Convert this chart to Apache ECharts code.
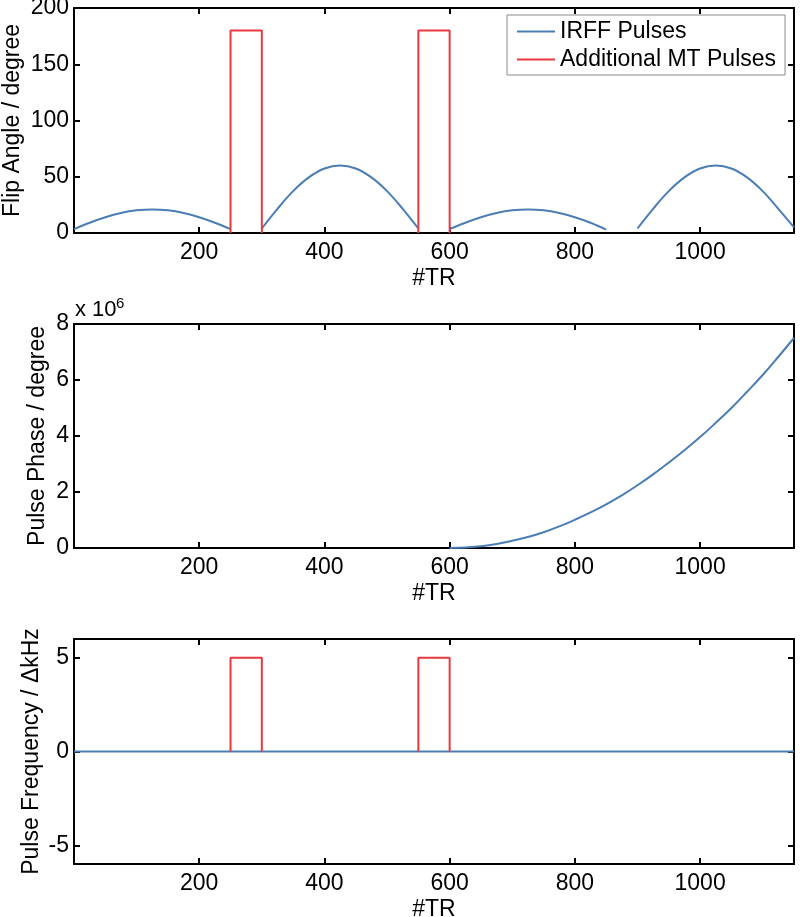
<!DOCTYPE html>
<html>
<head>
<meta charset="utf-8">
<script src="https://cdn.jsdelivr.net/npm/echarts@6/dist/echarts.min.js"></script>
<style>
html,body{margin:0;padding:0;background:#fff;}
#chart{width:800px;height:917px;}
</style>
</head>
<body>
<div id="chart"></div>
<script>
// ---- data ----
const xTicks = [200, 400, 600, 800, 1000];
const flipTicks = [0, 50, 100, 150, 200];
const phaseTicks = [0, 2, 4, 6, 8];          // x 10^6
const freqTicks = [-5, 0, 5];

// Flip angle of IRFF pulses (null = gap)
const flipX = [0,25,50,75,100,125,150,175,200,225,250, 275,
               300,325,350,375,400,425,450,475,500,525,550, 575,
               600,625,650,675,700,725,750,775,800,825,850, 875,
               900,925,950,975,1000,1025,1050,1075,1100,1125,1150];
const irffFlip = [3.5,9.1,14.0,17.8,20.2,21.0,20.2,17.8,14.0,9.1,3.5, null,
                  4.0,21.5,37.2,49.4,57.3,60.0,57.3,49.4,37.2,21.5,4.0, null,
                  3.5,9.1,14.0,17.8,20.2,21.0,20.2,17.8,14.0,9.1,3.0, null,
                  4.0,21.5,37.2,49.4,57.3,60.0,57.3,49.4,37.2,21.5,5.0];

// Additional MT pulses (rectangles)
const mtX    = [250, 250, 300, 300, 425, 550, 550, 600, 600];
const mtFlip = [0, 180, 180, 0, null, 0, 180, 180, 0];
const mtFreq = [0, 5, 5, 0, null, 0, 5, 5, 0];

// Pulse phase (degree, in units of 10^6)
const phaseX = [600,625,650,675,700,725,750,775,800,825,850,875,900,925,950,975,1000,1025,1050,1075,1100,1125,1150];
const phaseM = [0,0.02,0.06,0.14,0.26,0.39,0.56,0.77,1.01,1.27,1.56,1.88,2.24,2.63,3.05,3.49,3.96,4.47,5.00,5.58,6.18,6.83,7.50];

// Pulse frequency of IRFF pulses
const freqX = [0, 1150];
const irffFreq = [0, 0];

// ---- build chart ----
const FONT = 'Liberation Sans, Arial, sans-serif';
const FS = 23;
const BLUE = '#4a7eb4';
const RED = '#e8393f';
const BLACK = '#000';

const zip = (xs, ys) => xs.map((x, i) => [x, ys[i]]);

const grids = [
  {left: 74, top: 8, width: 720, height: 225, containLabel: false, outerBoundsMode: 'none'},
  {left: 74, top: 324, width: 720, height: 224, containLabel: false, outerBoundsMode: 'none'},
  {left: 74, top: 639, width: 720, height: 225, containLabel: false, outerBoundsMode: 'none'}
];

const axisLineStyle = {show: true, onZero: false, lineStyle: {color: BLACK, width: 2}};
const tickStyle = (vals) => ({show: true, inside: true, length: 6, customValues: vals, lineStyle: {color: BLACK, width: 2}});

const xAxes = [];
const yAxes = [];
const yConf = [
  {min: 0, max: 200, ticks: flipTicks, name: 'Flip Angle / degree', gap: 50},
  {min: 0, max: 8, ticks: phaseTicks, name: 'Pulse Phase / degree', gap: 25},
  {min: -6, max: 6, ticks: freqTicks, name: 'Pulse Frequency / \u0394kHz', gap: 31}
];
grids.forEach((g, i) => {
  xAxes.push({
    type: 'value', gridIndex: i, position: 'bottom', min: 0, max: 1150,
    name: '#TR', nameLocation: 'middle', nameGap: 34, nameMoveOverlap: false,
    nameTextStyle: {color: BLACK, fontSize: FS, fontFamily: FONT},
    axisLine: axisLineStyle, axisTick: tickStyle(xTicks),
    axisLabel: {customValues: xTicks, color: BLACK, fontSize: FS, fontFamily: FONT, margin: 8, formatter: v => String(v)},
    splitLine: {show: false}
  });
  xAxes.push({
    type: 'value', gridIndex: i, position: 'top', min: 0, max: 1150,
    axisLine: axisLineStyle, axisTick: tickStyle(xTicks),
    axisLabel: {show: false}, splitLine: {show: false}
  });
  const c = yConf[i];
  yAxes.push({
    type: 'value', gridIndex: i, position: 'left', min: c.min, max: c.max,
    name: c.name, nameLocation: 'middle', nameGap: c.gap, nameMoveOverlap: false,
    nameTextStyle: {color: BLACK, fontSize: FS, fontFamily: FONT},
    axisLine: axisLineStyle, axisTick: tickStyle(c.ticks),
    axisLabel: {customValues: c.ticks, color: BLACK, fontSize: FS, fontFamily: FONT, margin: 5, formatter: v => String(v)},
    splitLine: {show: false}
  });
  yAxes.push({
    type: 'value', gridIndex: i, position: 'right', min: c.min, max: c.max,
    axisLine: axisLineStyle, axisTick: tickStyle(c.ticks),
    axisLabel: {show: false}, splitLine: {show: false}
  });
});

const lineSeries = (name, data, xi, yi, color, smooth) => ({
  name, type: 'line', data, xAxisIndex: xi, yAxisIndex: yi,
  showSymbol: false, symbol: 'none', smooth: smooth || false, connectNulls: false,
  lineStyle: {color, width: 2}, itemStyle: {color}, animation: false, z: 3
});

const option = {
  animation: false,
  backgroundColor: '#fff',
  grid: grids,
  xAxis: xAxes,
  yAxis: yAxes,
  legend: {
    data: ['IRFF Pulses', 'Additional MT Pulses'],
    orient: 'vertical', left: 507, top: 15,
    padding: [5, 9, 4, 10], itemGap: 5,
    icon: 'rect', itemWidth: 38, itemHeight: 2,
    borderColor: '#8a8a8a', borderWidth: 1, backgroundColor: '#fff',
    textStyle: {color: BLACK, fontSize: FS, fontFamily: FONT},
    selectedMode: false
  },
  graphic: [
    {type: 'text', x: 75, y: 321, style: {text: 'x 10', font: '22px ' + FONT, fill: BLACK, verticalAlign: 'bottom'}},
    {type: 'text', x: 116, y: 311, style: {text: '6', font: '15px ' + FONT, fill: BLACK, verticalAlign: 'bottom'}}
  ],
  series: [
    lineSeries('IRFF Pulses', zip(flipX, irffFlip), 0, 0, BLUE, 0.4),
    lineSeries('Additional MT Pulses', zip(mtX, mtFlip), 0, 0, RED),
    lineSeries('IRFF Pulses', zip(phaseX, phaseM), 2, 2, BLUE, 0.4),
    lineSeries('IRFF Pulses', zip(freqX, irffFreq), 4, 4, BLUE),
    lineSeries('Additional MT Pulses', zip(mtX, mtFreq), 4, 4, RED)
  ]
};

const chart = echarts.init(document.getElementById('chart'), null, {renderer: 'canvas'});
chart.setOption(option);
</script>
</body>
</html>
